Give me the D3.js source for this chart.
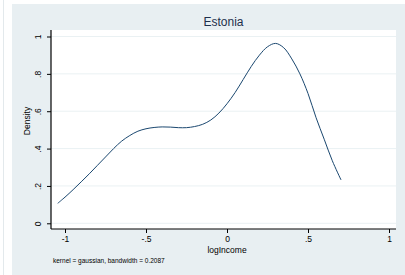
<!DOCTYPE html>
<html>
<head>
<meta charset="utf-8">
<script src="https://cdn.jsdelivr.net/npm/d3@7"></script>
<style>
  html, body { margin: 0; padding: 0; background: #fff; }
  svg { display: block; font-family: "Liberation Sans", Arial, sans-serif; }
</style>
</head>
<body>
<div id="chart"></div>
<script>
// Kernel density of logIncome, Estonia
const logIncome = [-1.045, -1.0, -0.95, -0.9, -0.85, -0.8, -0.75, -0.7, -0.65, -0.6,
  -0.55, -0.5, -0.45, -0.4, -0.35, -0.3, -0.25, -0.2, -0.15, -0.1,
  -0.05, 0, 0.05, 0.1, 0.15, 0.2, 0.25, 0.3, 0.35, 0.4,
  0.45, 0.5, 0.55, 0.6, 0.65, 0.704];
const density = [0.107, 0.14, 0.18, 0.222, 0.265, 0.31, 0.355, 0.40, 0.44, 0.47,
  0.493, 0.506, 0.513, 0.516, 0.515, 0.512, 0.512, 0.518, 0.53, 0.553,
  0.59, 0.64, 0.70, 0.77, 0.84, 0.90, 0.945, 0.963, 0.94, 0.88,
  0.80, 0.695, 0.565, 0.45, 0.335, 0.232];
const xTicks = [-1, -0.5, 0, 0.5, 1];
const xTickLabels = ['-1', '-.5', '0', '.5', '1'];
const yTicks = [0, 0.2, 0.4, 0.6, 0.8, 1];
const yTickLabels = ['0', '.2', '.4', '.6', '.8', '1'];
const title = 'Estonia';
const note = 'kernel = gaussian, bandwidth = 0.2087';

const width = 405, height = 275;
const plot = { left: 51, right: 396, top: 30, bottom: 229 };

const svg = d3.select('#chart').append('svg')
  .attr('width', width)
  .attr('height', height);

// outer graph region
svg.append('line')
  .attr('x1', 3.5).attr('x2', 3.5).attr('y1', 0).attr('y2', height)
  .attr('stroke', '#e3e9ec');
svg.append('rect')
  .attr('x', 12).attr('y', 4)
  .attr('width', width - 12).attr('height', height - 4)
  .attr('fill', '#e8eff2');

// plot region
svg.append('rect')
  .attr('x', plot.left).attr('y', plot.top)
  .attr('width', plot.right - plot.left).attr('height', plot.bottom - plot.top)
  .attr('fill', '#fff');

const x = d3.scaleLinear().domain([-1, 1]).range([65, 389]);
const y = d3.scaleLinear().domain([0, 1]).range([223.3, 36.5]);

// gridlines
svg.append('g').selectAll('line').data(yTicks).join('line')
  .attr('x1', plot.left).attr('x2', plot.right)
  .attr('y1', d => y(d)).attr('y2', d => y(d))
  .attr('stroke', '#eaf1f3')
  .attr('stroke-width', 1);

// density curve
const line = d3.line()
  .x((d, i) => x(logIncome[i]))
  .y(d => y(d))
  .curve(d3.curveCatmullRom);

svg.append('path')
  .datum(density)
  .attr('d', line)
  .attr('fill', 'none')
  .attr('stroke', '#1a476f')
  .attr('stroke-width', 1);

// y axis
const yAxis = svg.append('g')
  .attr('transform', `translate(${plot.left},0)`)
  .call(d3.axisLeft(y).tickValues(yTicks).tickSize(4).tickFormat((d, i) => yTickLabels[i]));
yAxis.select('.domain')
  .attr('d', `M0,${plot.top}V${plot.bottom}`)
  .attr('stroke', '#000').attr('stroke-width', 1.2);
yAxis.selectAll('.tick line').attr('stroke', '#000');
yAxis.selectAll('.tick text')
  .attr('x', 0).attr('dy', null)
  .attr('transform', 'translate(-10,0) rotate(-90)')
  .attr('text-anchor', 'middle')
  .attr('fill', '#000')
  .attr('font-size', 8.5)
  .attr('font-family', '"Liberation Sans", Arial, sans-serif');

// x axis
const xAxis = svg.append('g')
  .attr('transform', `translate(0,${plot.bottom})`)
  .call(d3.axisBottom(x).tickValues(xTicks).tickSize(4).tickFormat((d, i) => xTickLabels[i]));
xAxis.select('.domain')
  .attr('d', `M${plot.left},0H${plot.right}`)
  .attr('stroke', '#000').attr('stroke-width', 1.2);
xAxis.selectAll('.tick line').attr('stroke', '#000');
xAxis.selectAll('.tick text')
  .attr('y', 7)
  .attr('fill', '#000')
  .attr('font-size', 8.5)
  .attr('font-family', '"Liberation Sans", Arial, sans-serif');

// titles
svg.append('text')
  .attr('x', (plot.left + plot.right) / 2).attr('y', 26)
  .attr('text-anchor', 'middle')
  .attr('font-size', 12)
  .attr('fill', '#1e2f4c')
  .text(title);

svg.append('text')
  .attr('x', x(0)).attr('y', 253)
  .attr('text-anchor', 'middle')
  .attr('font-size', 8.5)
  .attr('fill', '#000')
  .text('logIncome');

svg.append('text')
  .attr('transform', 'translate(30,121) rotate(-90)')
  .attr('text-anchor', 'middle')
  .attr('font-size', 8.5)
  .attr('fill', '#000')
  .text('Density');

svg.append('text')
  .attr('x', 53).attr('y', 263)
  .attr('font-size', 6.5)
  .attr('fill', '#000')
  .text(note);
</script>
</body>
</html>
